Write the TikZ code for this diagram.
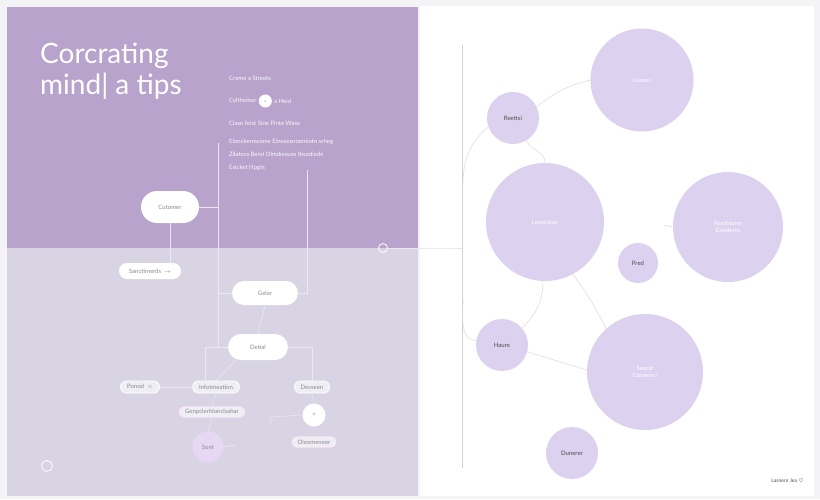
\documentclass[tikz,border=0pt]{standalone}
\usepackage{fontspec}
\setmainfont{Lato}
\usepackage{xcolor}
\usetikzlibrary{arrows.meta, positioning, calc, shapes.misc}
\definecolor{pagebg}{HTML}{F4F3F6}
\definecolor{toppurple}{HTML}{B8A3CC}
\definecolor{lowlav}{HTML}{D8D4E3}
\definecolor{bubble}{HTML}{DCD1EF}
\definecolor{sontfill}{HTML}{E6D7F5}
\definecolor{wire}{HTML}{ECE7F2}
\definecolor{rwire}{HTML}{DFE1DA}
\definecolor{pinkedge}{HTML}{EBCBEA}
\definecolor{greytext}{HTML}{8C8796}

\begin{document}
\begin{tikzpicture}[x=1pt, y=-1pt,
    every node/.style={font=\fontsize{6}{7}\selectfont, inner sep=1pt},
    pill/.style={rounded rectangle, fill=white, text=greytext},
    tag/.style={pill, fill=white!60!lowlav, draw=white, line width=0.8pt, minimum height=12pt, inner xsep=6pt},
    pinktag/.style={tag, draw=pinkedge},
    bub/.style={circle, fill=bubble, text=white},
    smallbub/.style={circle, fill=bubble, text=black!70},
    wirel/.style={draw=wire, line width=0.6pt},
    rwirel/.style={draw=rwire, line width=0.6pt},
    note/.style={anchor=west, text=white!92!toppurple}]
    \useasboundingbox (0,0) rectangle (820,499);
    \fill[pagebg] (0,0) rectangle (820,499);
    \fill[white] (420,6) rectangle (814,496);
    \fill[lowlav] (7,248) rectangle (418,496);
    \fill[toppurple] (7,7) rectangle (418,248);

    \node[anchor=north west, align=left, text=white, font=\fontsize{28}{31}\selectfont, inner sep=0pt] (title) at (40,43) {Corcrating\\mind| a tips};

    \node[note] (n1) at (228,78) {Creme a Streets};
    \node[note] (n2a) at (228,101) {Cyltheiner};
    \node[circle, fill=white, minimum size=13pt, inner sep=0pt, text=toppurple, font=\fontsize{4}{4}\selectfont, right=1pt of n2a] (n2b) {a};
    \node[note, right=1pt of n2b] (n2c) {a Heid};
    \node[note] (n3) at (228,123) {Ciase feist Sine Pinte Wase};
    \node[note, align=left, anchor=north west, font=\fontsize{6}{13}\selectfont] (n4) at (228,138) {Elonckerowame Einseesnoemiotn wheg\\Zilatera Berel Olmdiesues Ibsodiede\\Esicket Hpgts};

    \node[pill, minimum width=60pt, minimum height=32pt] (cutomer) at (170,207) {Cutomer};
    \node[pill, minimum width=64pt, minimum height=16pt] (sanct) at (150,271) {Sanctimerds \,$\rightarrow$};
    \node[pill, minimum width=68pt, minimum height=24pt] (gelar) at (265,293) {Gelar};
    \node[pill, minimum width=62pt, minimum height=26pt] (detial) at (258,347) {Detial};
    \node[tag] (ponod) at (140,387) {Ponod \ $\times$};
    \node[tag] (infot) at (216,387) {Infotmeation};
    \node[tag] (dessen) at (312,387) {Desseen};
    \node[pinktag] (genpc) at (212,412) {Genpclerhlonclsahar};
    \node[circle, fill=white, minimum size=23pt, text=greytext] (plus) at (314,415) {+};
    \node[circle, fill=sontfill, minimum size=31pt, text=greytext] (sont) at (208,447) {Sont};
    \node[pinktag] (oleo) at (314,442) {Oleomeneer};
    \node[circle, draw=white, line width=0.8pt, minimum size=11pt] (ring1) at (47,466) {};
    \node[circle, draw=white, line width=0.8pt, minimum size=9pt] (ring2) at (383,248) {};

    \coordinate (v1top) at (218,143);
    \coordinate (v2top) at (307,170);
    \draw[wirel] (v1top) |- (detial.west);
    \draw[wirel] (cutomer.east) -- (cutomer.east -| v1top);
    \draw[wirel] (218,293) -- (gelar.west);
    \draw[wirel] (v2top) |- (gelar.east);
    \draw[wirel] (cutomer.south) -- (cutomer.south |- sanct.north);
    \draw[wirel] (gelar.south) -- (detial.north);
    \draw[wirel] (detial.west) -| (205,381);
    \draw[wirel] (detial.210) -- (infot.north);
    \draw[wirel] (detial.east) -| (dessen.north);
    \draw[wirel] (ponod.east) -- (infot.west);
    \draw[wirel] (infot.south) -- (genpc.north);
    \draw[wirel] (genpc.south) -- (sont.north);
    \draw[wirel] (sont.east) -- ++(12,-2);
    \draw[wirel] (dessen.south) -- (plus.north);
    \draw[wirel] (plus.west) -- (271,417) -- ++(0,6);
    \draw[wirel] (ring2.east) -- (462,248);

    \draw[draw=black!18, line width=0.7pt] (462,45) -- (462,468);

    \node[bub, minimum size=103pt] (lsaeus) at (642,80) {Lsaeus};
    \node[smallbub, minimum size=52pt] (reettsi) at (513,118) {Reettsi};
    \node[bub, minimum size=118pt] (lsseic) at (545,222) {Lsseicttue};
    \node[bub, minimum size=110pt, align=center] (reazh) at (728,227) {Reazhlorer\\Exsideres};
    \node[smallbub, minimum size=40pt] (pred) at (638,263) {Pred};
    \node[smallbub, minimum size=52pt] (haure) at (502,345) {Haure};
    \node[bub, minimum size=116pt, align=center] (saurat) at (645,372) {Saurat\\Cotsereu};
    \node[smallbub, minimum size=52pt] (dunerer) at (572,453) {Dunerer};
    \node[anchor=east, text=black!70, font=\fontsize{5}{6}\selectfont] (credit) at (805,481) {Lasnenr Jea $\heartsuit$};

    \draw[rwirel, -{Stealth[length=3pt]}] (reettsi.25) to[bend left=12] (lsaeus.west);
    \draw[rwirel] (reettsi.-60) to[out=-60, in=90] (lsseic.north);
    \draw[rwirel] (reettsi.200) to[out=220, in=90] (463,185);
    \draw[rwirel] (463,300) to[out=-90, in=180] (haure.170);
    \draw[rwirel] (lsseic.-92) to[out=-90, in=45] (haure.40);
    \draw[rwirel] (lsseic.-62) to[bend left=5] (saurat.132);
    \draw[rwirel] (haure.-15) -- (saurat.178);
    \draw[rwirel] (664,225) -- (reazh.west);
\end{tikzpicture}
\end{document}
